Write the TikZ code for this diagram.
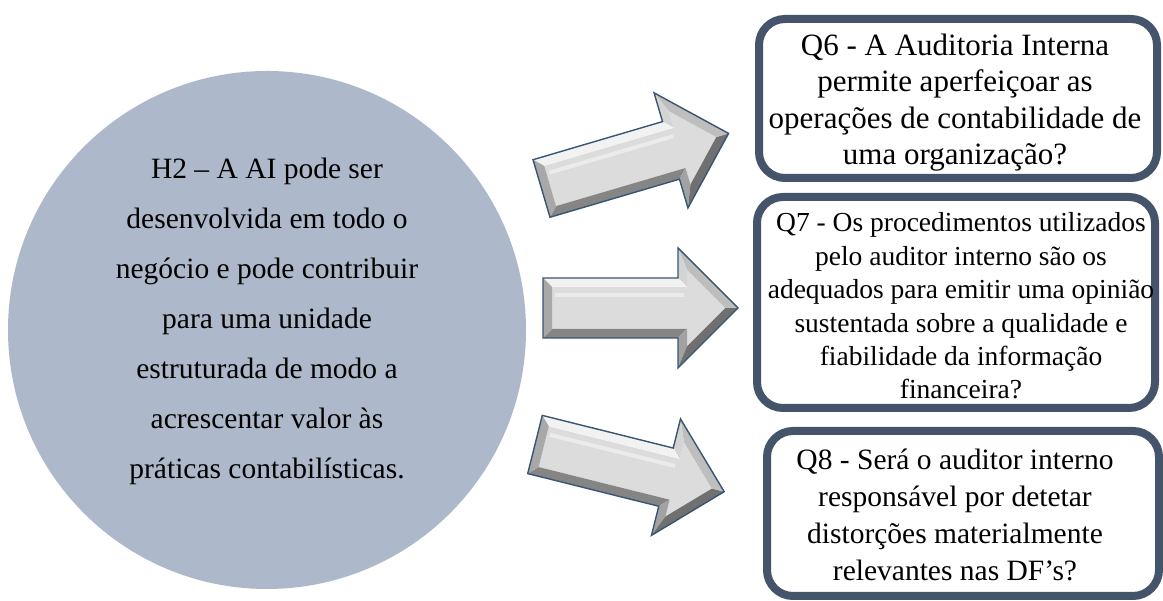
\documentclass[tikz,border=0pt]{standalone}
\usepackage{fontspec}
\setmainfont{Liberation Serif}
\definecolor{circfill}{HTML}{ADB9CA}
\definecolor{boxline}{HTML}{44546A}
\definecolor{arrline}{HTML}{3A5573}
\definecolor{bvface}{HTML}{DCDCDC}
\definecolor{bvlight}{HTML}{F2F2F2}
\definecolor{bvlightmid}{HTML}{D4D4D4}
\definecolor{bvmidlight}{HTML}{BEBEBE}
\definecolor{bvleft}{HTML}{A8A8A8}
\definecolor{bvmid}{HTML}{A2A2A2}
\definecolor{bvdark}{HTML}{858585}
\definecolor{bvdarker}{HTML}{707070}
\begin{document}
\begin{tikzpicture}[x=1pt,y=1pt,
  qbox/.style={draw=boxline, line width=8pt, rounded corners=26pt, fill=white},
  qtext/.style={align=center, inner sep=0pt, text=black},
  bevelarrow/.pic={
    \fill[bvface] (9,-21) -- (144,-21) -- (144,-38.27) -- (182.27,0) -- (144,38.27) -- (144,21) -- (9,21) -- cycle;
    \fill[white, opacity=0.45] (12,11) -- (141,11) -- (141,15) -- (12,15) -- cycle;
    \fill[bvdark] (0,-30) -- (135,-30) -- (144,-21) -- (9,-21) -- cycle;
    \fill[bvmid] (135,-30) -- (135,-60) -- (144,-38.27) -- (144,-21) -- cycle;
    \fill[bvdarker] (135,-60) -- (195,0) -- (182.27,0) -- (144,-38.27) -- cycle;
    \fill[bvmidlight] (195,0) -- (135,60) -- (144,38.27) -- (182.27,0) -- cycle;
    \fill[bvlightmid] (135,60) -- (135,30) -- (144,21) -- (144,38.27) -- cycle;
    \fill[bvlight] (135,30) -- (0,30) -- (9,21) -- (144,21) -- cycle;
    \fill[bvleft] (0,30) -- (0,-30) -- (9,-21) -- (9,21) -- cycle;
    \draw[arrline, line width=1.4pt, line join=miter] (0,-30) -- (135,-30) -- (135,-60) -- (195,0) -- (135,60) -- (135,30) -- (0,30) -- cycle;
  }
]
\useasboundingbox (0,0) rectangle (1163,601);
\fill[white] (0,0) rectangle (1163,601);

% hypothesis circle
\node[circle, fill=circfill, minimum size=518pt, inner sep=0pt] (h2) at (267,271) {};
\node[qtext, font=\fontsize{29.5}{50}\selectfont] (h2t) at (267,280)
  {H2 -- A AI pode ser\\ desenvolvida em todo o\\ negócio e pode contribuir\\ para uma unidade\\ estruturada de modo a\\ acrescentar valor às\\ práticas contabilísticas.};

% question boxes
\draw[qbox] (759,423) rectangle (1157,582);
\node[qtext, font=\fontsize{31}{36.5}\selectfont] (q6) at (955,498.5)
  {Q6 - A Auditoria Interna\\ permite aperfeiçoar as\\ operações de contabilidade de\\ uma organização?};

\draw[qbox] (757,193) rectangle (1155,404);
\node[qtext, font=\fontsize{27.5}{33.4}\selectfont] (q7) at (961,295)
  {Q7 - Os procedimentos utilizados\\ pelo auditor interno são os\\ adequados para emitir uma opinião\\ sustentada sobre a qualidade e\\ fiabilidade da informação\\ financeira?};

\draw[qbox] (767,5) rectangle (1159,170);
\node[qtext, font=\fontsize{29.5}{36.7}\selectfont] (q8) at (955,86)
  {Q8 - Será o auditor interno\\ responsável por detetar\\ distorções materialmente\\ relevantes nas DF’s?};

% block arrows
\coordinate (a1) at (541.5,412.5);
\coordinate (a2) at (543,293);
\coordinate (a3) at (535,156.5);
\pic[rotate=16.4] at (a1) {bevelarrow};
\pic at (a2) {bevelarrow};
\pic[rotate=-14] at (a3) {bevelarrow};
\end{tikzpicture}
\end{document}
